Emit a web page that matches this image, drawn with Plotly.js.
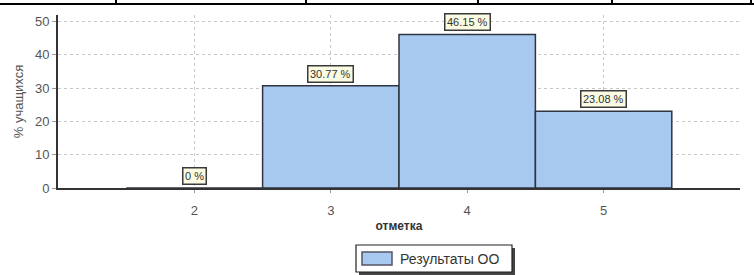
<!DOCTYPE html>
<html><head><meta charset="utf-8">
<script src="https://cdn.plot.ly/plotly-3.0.1.min.js"></script>
<style>html,body{margin:0;padding:0;background:#fff}#chart{width:754px;height:275px}</style>
</head><body><div id="chart"></div>
<script>
const categories = [2, 3, 4, 5];
const values = [0, 30.77, 46.15, 23.08];
const labels = ['0 %', '30.77 %', '46.15 %', '23.08 %'];
const seriesName = 'Результаты ОО';
const yTicks = [0, 10, 20, 30, 40, 50];

const W = 754, H = 275, L = 58, R = 14, T = 15, B = 87;
const pw = W - L - R, ph = H - T - B;
const px = v => (v - L) / pw;
const py = v => (H - B - v) / ph;

const barColor = '#a7c9ef';
const trace = {
  type: 'bar', x: categories, y: values, width: 1, name: seriesName,
  marker: {color: barColor, line: {color: '#2e3440', width: 1.5}},
  hoverinfo: 'none', showlegend: false
};

const annotations = categories.map((c, i) => ({
  x: c, y: values[i], xref: 'x', yref: 'y', text: labels[i], showarrow: false,
  yanchor: 'bottom', yshift: 3,
  font: {family: 'Liberation Sans, Arial, sans-serif', size: 11, color: '#333'},
  bgcolor: '#fbfbe4', bordercolor: '#3a3a3a', borderwidth: 1.5, borderpad: 1.5
}));
// legend text
annotations.push({xref: 'paper', yref: 'paper', x: px(398), y: py(258.5), xanchor: 'left', yanchor: 'middle',
  text: seriesName, showarrow: false,
  font: {family: 'Liberation Sans, Arial, sans-serif', size: 14, color: '#333'}});

const shapes = [];
// table border at the top of the image
shapes.push({type: 'line', xref: 'paper', yref: 'paper', x0: px(0), x1: px(754), y0: py(4), y1: py(4), line: {color: '#000', width: 2}});
[116, 306, 478, 612, 751].forEach(xx => shapes.push({type: 'line', xref: 'paper', yref: 'paper', x0: px(xx), x1: px(xx), y0: py(0), y1: py(4), line: {color: '#000', width: 2}}));
// legend box with shadow and swatch
shapes.push({type: 'rect', xref: 'paper', yref: 'paper', x0: px(359), x1: px(515), y0: py(275), y1: py(248), fillcolor: '#444', line: {width: 0}});
shapes.push({type: 'rect', xref: 'paper', yref: 'paper', x0: px(356), x1: px(512), y0: py(272), y1: py(245), fillcolor: '#fff', line: {color: '#222', width: 1.2}});
shapes.push({type: 'rect', xref: 'paper', yref: 'paper', x0: px(362), x1: px(392), y0: py(265), y1: py(252), fillcolor: barColor, line: {color: '#556', width: 1.5}});

const layout = {
  width: W, height: H, margin: {l: L, r: R, t: T, b: B, autoexpand: false},
  paper_bgcolor: '#fff', plot_bgcolor: '#fff',
  font: {family: 'Liberation Sans, Arial, sans-serif', size: 12, color: '#444'},
  showlegend: false,
  xaxis: {range: [1, 6], tickvals: categories, ticktext: categories.map(String),
    showgrid: true, gridcolor: '#c8c8c8', griddash: 'dot', gridwidth: 1,
    zeroline: false, showline: true, linecolor: '#333', linewidth: 2,
    ticks: 'outside', ticklen: 3, tickcolor: '#999', ticklabelstandoff: 6,
    tickfont: {size: 13, color: '#555'},
    title: {text: '<b>отметка</b>', font: {size: 12, color: '#333'}, standoff: 5},
    fixedrange: true},
  yaxis: {range: [0, 52], tickvals: yTicks,
    showgrid: true, gridcolor: '#c8c8c8', griddash: 'dot', gridwidth: 1,
    zeroline: false, showline: true, linecolor: '#333', linewidth: 2,
    ticks: 'outside', ticklen: 4, tickcolor: '#999',
    tickfont: {size: 13, color: '#555'},
    title: {text: '% учащихся', font: {size: 13, color: '#555'}, standoff: 8},
    fixedrange: true},
  bargap: 0, annotations: annotations, shapes: shapes
};

Plotly.newPlot('chart', [trace], layout, {displayModeBar: false, staticPlot: true});
</script></body></html>
